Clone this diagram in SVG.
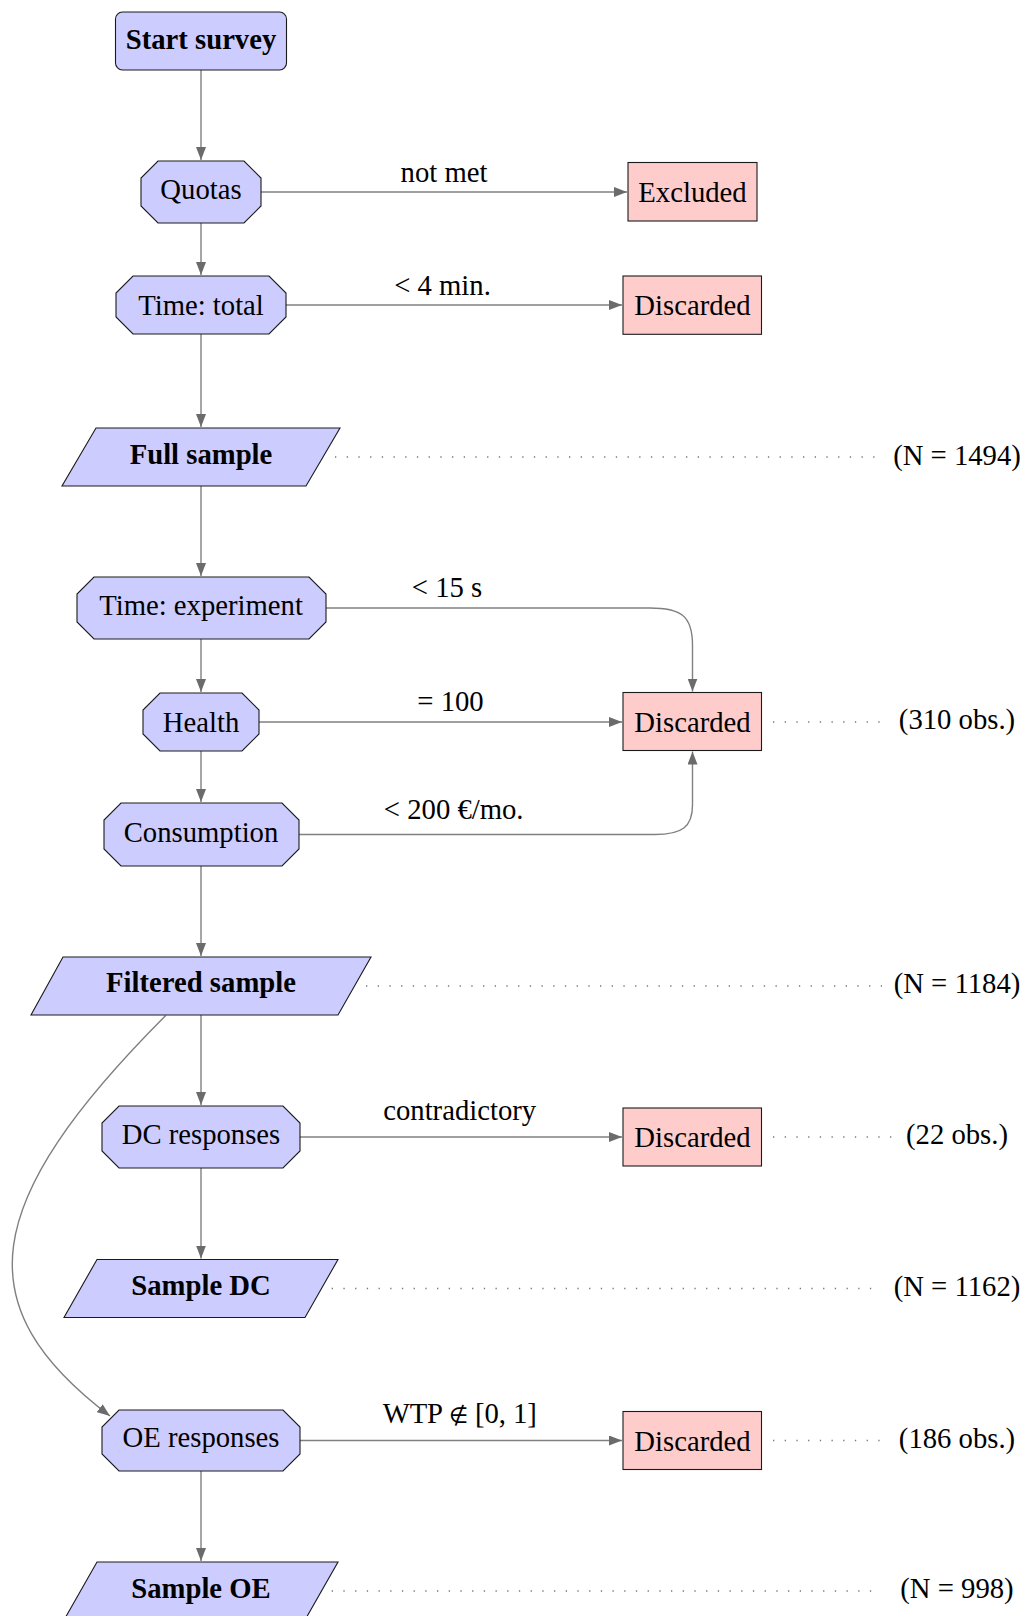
<svg xmlns="http://www.w3.org/2000/svg" width="1027" height="1616" viewBox="0 0 1027 1616">
<defs>
<style>
text{font-family:"Liberation Serif","Times New Roman",serif;font-size:28.7px;fill:#000;}
.c{text-anchor:middle;}
.b{font-weight:bold;}
.blue{fill:#ccccff;stroke:#1a1a1a;stroke-width:1.1;}
.red{fill:#ffcccc;stroke:#1a1a1a;stroke-width:1.1;}
.e{fill:none;stroke:#808080;stroke-width:1.4;marker-end:url(#ah);}
.d{fill:none;stroke:#777;stroke-width:1.3;stroke-dasharray:1.3 10.4;}
.sym{font-family:"DejaVu Sans",sans-serif;font-size:22px;font-weight:normal;}
</style>
<marker id="ah" viewBox="0 0 13 10" markerWidth="13" markerHeight="10" refX="13" refY="5" orient="auto" markerUnits="userSpaceOnUse">
<path d="M0,0 L13,5 L0,10 z" fill="#6b6b6b"/>
</marker>
</defs>
<g id="connectors">
<path class="e" d="M201,70 V160"/>
<path class="e" d="M201,223 V275"/>
<path class="e" d="M201,334 V427"/>
<path class="e" d="M201,486 V576"/>
<path class="e" d="M201,639 V692"/>
<path class="e" d="M201,751 V802"/>
<path class="e" d="M201,866 V956"/>
<path class="e" d="M201,1015 V1105"/>
<path class="e" d="M201,1168 V1258.5"/>
<path class="e" d="M201,1471 V1561"/>
<path class="e" d="M261,192 H627"/>
<path class="e" d="M286,305 H622"/>
<path class="e" d="M326,608 H650 C680,608 692.5,615 692.5,645 V691.5"/>
<path class="e" d="M259,722 H622"/>
<path class="e" d="M299,834.5 H655 C682,834.5 692.5,827 692.5,805 V751.5"/>
<path class="e" d="M300,1137 H622"/>
<path class="e" d="M300,1440.5 H622"/>
<path class="e" d="M165.7,1015.5 C-21.7,1203.4 -34,1307 110,1416"/>
<path class="d" d="M335,457 H878"/>
<path class="d" d="M773,722 H890"/>
<path class="d" d="M366,986 H882"/>
<path class="d" d="M773,1137 H894"/>
<path class="d" d="M320,1288.5 H878"/>
<path class="d" d="M773,1440.5 H884"/>
<path class="d" d="M320,1591 H880"/>
<text class="c" x="444" y="181.5">not met</text>
<text class="c" x="442.5" y="295">&lt; 4 min.</text>
<text class="c" x="447" y="597">&lt; 15 s</text>
<text class="c" x="450.5" y="711">= 100</text>
<text class="c" x="453.7" y="819">&lt; 200 €/mo.</text>
<text class="c" x="459.7" y="1119.5">contradictory</text>
<text class="c" x="459.7" y="1422.5" textLength="154" lengthAdjust="spacing">WTP <tspan class="sym">∉</tspan> [0, 1]</text>
</g>
<g id="start">
<rect class="blue" x="115.5" y="12" width="171" height="58" rx="7"/>
<text class="c b" x="201" y="48.5">Start survey</text>
</g>
<g id="quotas">
<polygon class="blue" points="158,161 244,161 261,178 261,206 244,223 158,223 141,206 141,178"/>
<text class="c" x="201" y="199">Quotas</text>
</g>
<g id="excluded">
<rect class="red" x="628" y="162.5" width="129" height="58.5"/>
<text class="c" x="692.5" y="202">Excluded</text>
</g>
<g id="time-total">
<polygon class="blue" points="133,276 269,276 286,293 286,317 269,334 133,334 116,317 116,293"/>
<text class="c" x="201" y="315">Time: total</text>
</g>
<g id="discarded-1">
<rect class="red" x="623" y="276" width="138.5" height="58.3"/>
<text class="c" x="692.5" y="315">Discarded</text>
</g>
<g id="full-sample">
<polygon class="blue" points="96,428 340,428 306,486 62,486"/>
<text class="c b" x="201" y="463.5">Full sample</text>
<text class="c" x="957" y="464.5">(N = 1494)</text>
</g>
<g id="time-experiment">
<polygon class="blue" points="94,577 309,577 326,594 326,622 309,639 94,639 77,622 77,594"/>
<text class="c" x="201" y="615">Time: experiment</text>
</g>
<g id="health">
<polygon class="blue" points="160,693 242,693 259,710 259,734 242,751 160,751 143,734 143,710"/>
<text class="c" x="201" y="731.5">Health</text>
</g>
<g id="discarded-2">
<rect class="red" x="623" y="692.5" width="138.5" height="58"/>
<text class="c" x="692.5" y="731.5">Discarded</text>
<text class="c" x="957" y="729">(310 obs.)</text>
</g>
<g id="consumption">
<polygon class="blue" points="121,803 282,803 299,820 299,849 282,866 121,866 104,849 104,820"/>
<text class="c" x="201" y="841.5">Consumption</text>
</g>
<g id="filtered-sample">
<polygon class="blue" points="63,957 371,957 338,1015 31,1015"/>
<text class="c b" x="201" y="992">Filtered sample</text>
<text class="c" x="957" y="993">(N = 1184)</text>
</g>
<g id="dc-responses">
<polygon class="blue" points="119,1106 283,1106 300,1123 300,1151 283,1168 119,1168 102,1151 102,1123"/>
<text class="c" x="201" y="1144">DC responses</text>
</g>
<g id="discarded-3">
<rect class="red" x="623" y="1108" width="138.5" height="58"/>
<text class="c" x="692.5" y="1147">Discarded</text>
<text class="c" x="957" y="1144">(22 obs.)</text>
</g>
<g id="sample-dc">
<polygon class="blue" points="97,1259.5 338,1259.5 305,1317.5 64,1317.5"/>
<text class="c b" x="201" y="1295">Sample DC</text>
<text class="c" x="957" y="1295.5">(N = 1162)</text>
</g>
<g id="oe-responses">
<polygon class="blue" points="119,1410 283,1410 300,1427 300,1454 283,1471 119,1471 102,1454 102,1427"/>
<text class="c" x="201" y="1447">OE responses</text>
</g>
<g id="discarded-4">
<rect class="red" x="623" y="1411.5" width="138.5" height="58"/>
<text class="c" x="692.5" y="1450.5">Discarded</text>
<text class="c" x="957" y="1447.5">(186 obs.)</text>
</g>
<g id="sample-oe">
<polygon class="blue" points="97,1562 338,1562 305,1620 64,1620"/>
<text class="c b" x="201" y="1598">Sample OE</text>
<text class="c" x="957" y="1598">(N = 998)</text>
</g>
</svg>
